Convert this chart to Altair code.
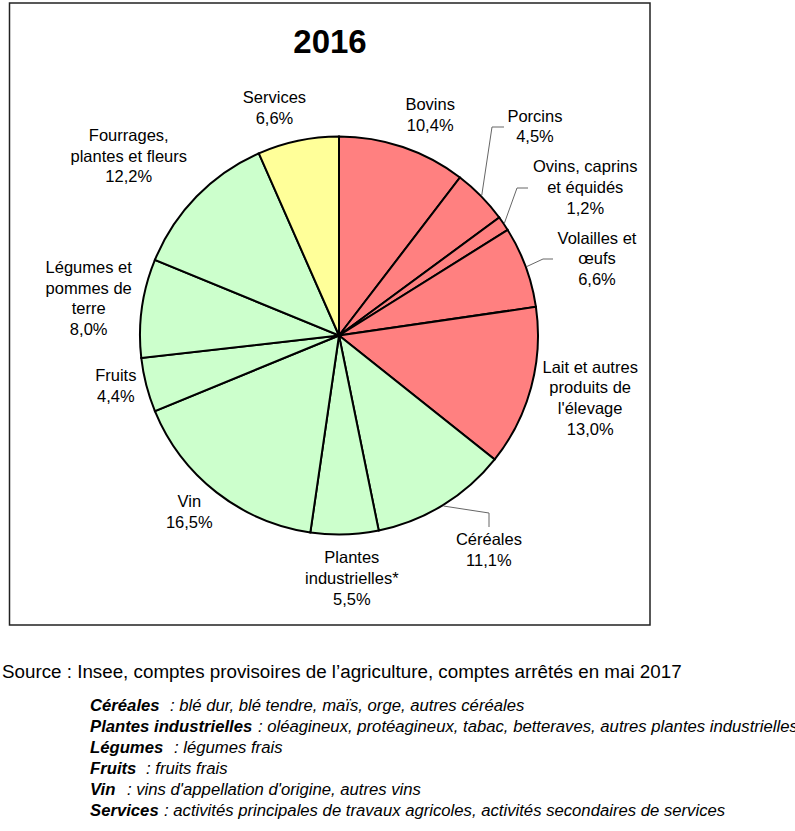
import altair as alt
import pandas as pd
import numpy as np

# ---------------- data ----------------
categories = ["Bovins", "Porcins", "Ovins, caprins et équidés", "Volailles et œufs",
              "Lait et autres produits de l'élevage", "Céréales", "Plantes industrielles*",
              "Vin", "Fruits", "Légumes et pommes de terre", "Fourrages, plantes et fleurs",
              "Services"]
label_lines = [["Bovins"], ["Porcins"], ["Ovins, caprins", "et équidés"], ["Volailles et", "œufs"],
               ["Lait et autres", "produits de", "l'élevage"], ["Céréales"],
               ["Plantes", "industrielles*"], ["Vin"], ["Fruits"],
               ["Légumes et", "pommes de", "terre"], ["Fourrages,", "plantes et fleurs"],
               ["Services"]]
shares = [10.4, 4.5, 1.2, 6.6, 13.0, 11.1, 5.5, 16.5, 4.4, 8.0, 12.2, 6.6]
groups = ["animal"] * 5 + ["vegetal"] * 6 + ["service"]

title_text = "2016"
source_text = "Source : Insee, comptes provisoires de l\u2019agriculture, comptes arrêtés en mai 2017"
note_names = ["Céréales", "Plantes industrielles", "Légumes", "Fruits", "Vin", "Services"]
note_descs = [": blé dur, blé tendre, maïs, orge, autres céréales",
              ": oléagineux, protéagineux, tabac, betteraves, autres plantes industrielles",
              ": légumes frais",
              ": fruits frais",
              ": vins d'appellation d'origine, autres vins",
              ": activités principales de travaux agricoles, activités secondaires de services"]

# ---------------- layout / style ----------------
FONT = "Liberation Sans"
CX, CY, R = 339, 335.5, 199
LABEL_FS, LABEL_LH = 16.5, 20.7
group_domain = ["animal", "vegetal", "service"]
group_colors = ["#FF8080", "#CCFFCC", "#FFFF99"]
label_angle_offset = [3.8, -2.3, 3.3, 3.7, -1.0, -3.4, -1.4, 2.2, 1.5, 0.4, -3.9, -4.0]  # degrees
label_radius = [238, 286, 287, 269, 259, 262, 244, 232, 229, 253, 276, 236]
leader_cats = ["Porcins", "Ovins, caprins et équidés", "Volailles et œufs", "Céréales"]
leader_elbow = [(492, 127), (517, 188), (543, 259), (489, 513)]
leader_end = [(504, 127), (528, 188), (553, 259), (489, 527)]
note_x_desc = [170, 258, 174, 146, 127, 164]
NOTE_Y0, NOTE_DY, NOTE_FS = 706, 21, 16.7

# ---------------- derived tables ----------------
df = pd.DataFrame({"cat": categories, "share": shares, "group": groups,
                   "idx": range(len(categories))})
cum = np.cumsum(shares)
mid = (cum - np.array(shares) / 2) / cum[-1] * 2 * np.pi
fmt = [f"{v:.1f}".replace(".", ",") + "%" for v in shares]
ang = mid + np.radians(label_angle_offset)
nlines = np.array([len(l) + 1 for l in label_lines])
lab = pd.DataFrame({
    "txt": ["\n".join(l + [p]) for l, p in zip(label_lines, fmt)],
    "px": CX + np.array(label_radius) * np.sin(ang),
    "py": CY - np.array(label_radius) * np.cos(ang) - (nlines - 1) * LABEL_LH / 2,
})

rows = []
for i, (c, e, n) in enumerate(zip(leader_cats, leader_elbow, leader_end)):
    a = mid[categories.index(c)]
    rows.append({"id": i, "o": 0, "px": CX + (R + 1) * np.sin(a), "py": CY - (R + 1) * np.cos(a)})
    rows.append({"id": i, "o": 1, "px": e[0], "py": e[1]})
    rows.append({"id": i, "o": 2, "px": n[0], "py": n[1]})
leaders = pd.DataFrame(rows)

notes = pd.DataFrame({"name": note_names, "desc": note_descs, "xd": note_x_desc,
                      "y": [NOTE_Y0 + i * NOTE_DY for i in range(len(note_names))]})

one = pd.DataFrame({"t": [title_text]})

# ---------------- layers ----------------
frame = alt.Chart(one).mark_rect(fillOpacity=0, stroke="#222222", strokeWidth=1.5).encode(
    x=alt.value(9.5), x2=alt.value(650), y=alt.value(3), y2=alt.value(625))

pie = alt.Chart(df).mark_arc(radius=R, stroke="black", strokeWidth=2).encode(
    theta=alt.Theta("share:Q", stack=True),
    order=alt.Order("idx:Q"),
    color=alt.Color("group:N", scale=alt.Scale(domain=group_domain, range=group_colors), legend=None),
    x=alt.value(CX), y=alt.value(CY))

lead = alt.Chart(leaders).mark_line(color="#666666", strokeWidth=1).encode(
    x=alt.X("px:Q", scale=None), y=alt.Y("py:Q", scale=None),
    detail="id:N", order="o:Q")

labels = alt.Chart(lab).mark_text(font=FONT, fontSize=LABEL_FS, lineBreak="\n", lineHeight=LABEL_LH,
                                  align="center", baseline="middle", color="black").encode(
    x=alt.X("px:Q", scale=None), y=alt.Y("py:Q", scale=None),
    text="txt:N")

title = alt.Chart(one).mark_text(font=FONT, fontSize=33, fontWeight="bold", align="center",
                                 baseline="middle", color="black").encode(
    x=alt.value(330), y=alt.value(43), text="t:N")

source = alt.Chart(pd.DataFrame({"t": [source_text]})).mark_text(
    font=FONT, fontSize=18.8, align="left", baseline="middle", color="black").encode(
    x=alt.value(2), y=alt.value(672), text="t:N")

note_names_layer = alt.Chart(notes).mark_text(
    font=FONT, fontSize=NOTE_FS, fontStyle="italic", fontWeight="bold", align="left",
    baseline="middle", color="black").encode(
    x=alt.value(90), y=alt.Y("y:Q", scale=None), text="name:N")

note_desc_layer = alt.Chart(notes).mark_text(
    font=FONT, fontSize=NOTE_FS, fontStyle="italic", align="left", baseline="middle",
    color="black").encode(
    x=alt.X("xd:Q", scale=None), y=alt.Y("y:Q", scale=None), text="desc:N")

chart = alt.layer(frame, pie, lead, labels, title, source, note_names_layer, note_desc_layer).properties(
    width=795, height=831, autosize=alt.AutoSizeParams(type="none"), padding=0,
    background="white"
).configure_view(stroke=None)

chart.save("out.html", embed_options={"renderer": "svg", "actions": False})
